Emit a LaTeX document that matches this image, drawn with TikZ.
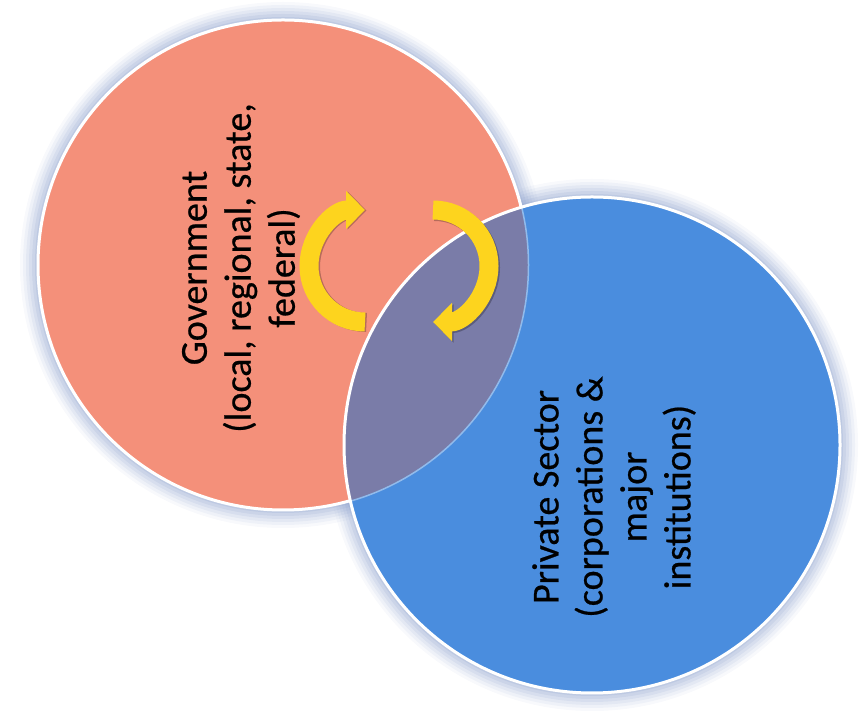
\documentclass[tikz,border=0pt]{standalone}
\usepackage{fontspec}
\setmainfont{Carlito}[FakeBold=0.6]
\usetikzlibrary{arrows.meta}

\definecolor{govred}{RGB}{244,144,122}
\definecolor{privblue}{RGB}{74,141,222}
\definecolor{overlap}{RGB}{122,124,168}
\definecolor{glow}{RGB}{130,152,200}
\definecolor{cycyellow}{RGB}{253,212,30}

\begin{document}
\begin{tikzpicture}[x=1pt,y=1pt,
        lbl/.style={rotate=90,align=center,inner sep=0pt,
            font=\fontsize{38}{44}\selectfont},
        cyc/.style={cycyellow,line width=19pt,-{Triangle[length=19pt,width=37pt]}},
        cycshadow/.style={black,opacity=0.25,line width=19pt,-{Triangle[length=19pt,width=37pt]}}]
                \useasboundingbox (0,0) rectangle (859,725);
                \coordinate (G) at (283,460);
                \coordinate (P) at (592,280);

                \foreach \d/\o in {18/0.06,15/0.08,12/0.1,9/0.12,6/0.15,3/0.18}{
                    \fill[glow,opacity=\o] (G) circle[radius=245+\d];
                    \fill[glow,opacity=\o] (P) circle[radius=248+\d];
                }

                \fill[govred] (G) circle[radius=245];
                \draw[white,line width=3pt] (G) circle[radius=245];
                \fill[privblue] (P) circle[radius=248];
                \begin{scope}
                    \clip (G) circle[radius=245];
                    \fill[overlap] (P) circle[radius=248];
                \end{scope}
                \begin{scope}
                    \clip (P) circle[radius=248];
                    \draw[privblue!60!white,line width=1.5pt] (G) circle[radius=245.5];
                \end{scope}
                \draw[white,line width=3pt] (P) circle[radius=248];

                \node[lbl] (gov) at (241,457) {Government\\(local, regional, state,\\federal)};
                \node[lbl] (priv) at (614,228) {Private Sector\\(corporations \&\\major\\institutions)};

                \draw[cycshadow] (366.5,402.5) arc[start angle=-90,end angle=-270,radius=56];
                \draw[cycshadow] (434.5,513.5) arc[start angle=90,end angle=-90,radius=56];
                \draw[cyc] (365,403) arc[start angle=-90,end angle=-270,radius=56];
                \draw[cyc] (433,515) arc[start angle=90,end angle=-90,radius=56];
            \end{tikzpicture}
\end{document}
